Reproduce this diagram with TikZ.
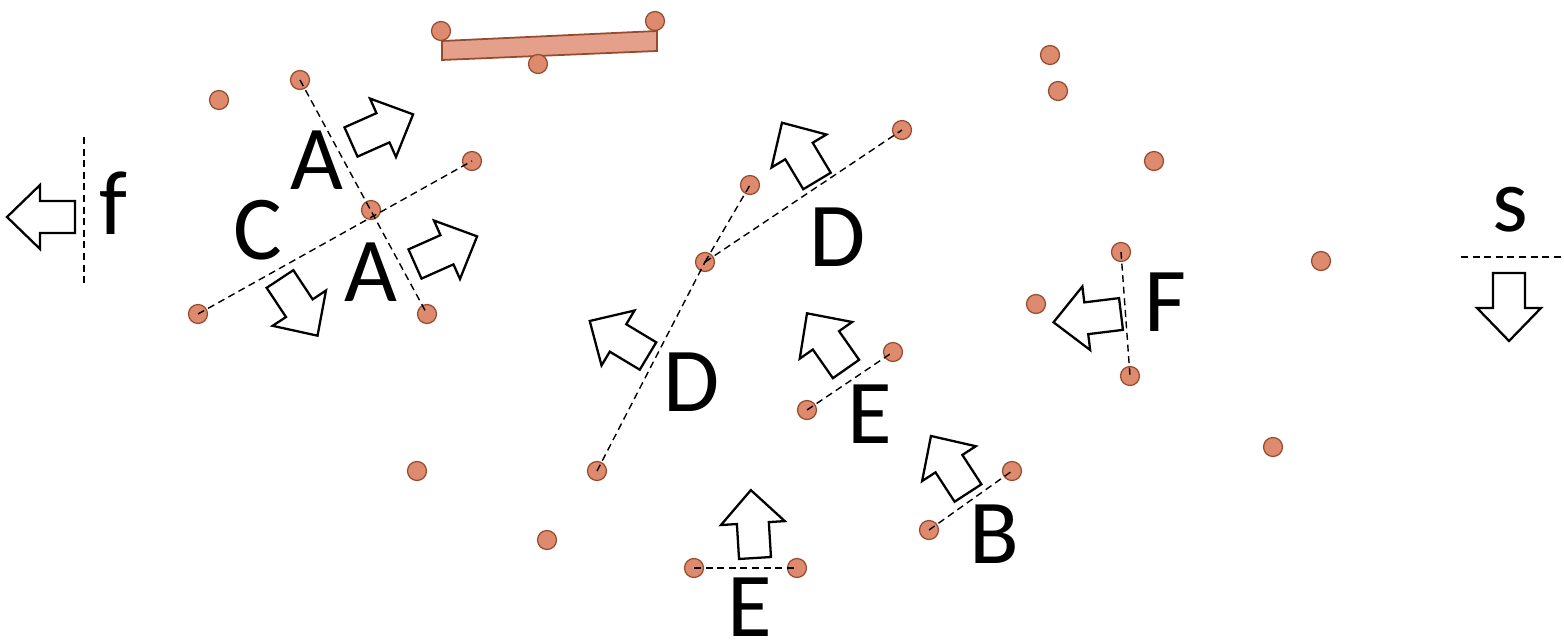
\documentclass[tikz,border=0pt]{standalone}
\usepackage{fontspec}
\setmainfont{Carlito}
\usetikzlibrary{calc}
\definecolor{dotfill}{RGB}{221,138,110}
\definecolor{dotline}{RGB}{150,75,45}
\definecolor{barfill}{RGB}{228,160,138}
\tikzset{
  dot/.style={circle,fill=dotfill,draw=dotline,line width=0.7pt,minimum size=0.38cm,inner sep=0pt},
  dline/.style={line width=0.8pt,dash pattern=on 4pt off 2.6pt},
  arrowstyle/.style={draw=black,fill=white,line width=1.3pt,line join=miter},
  lbl/.style={anchor=base,inner sep=0pt,font=\fontsize{52}{52}\selectfont}
}
\newcommand{\blockarrow}[2]{%
  \draw[arrowstyle] ($(#1)+(#2-90:0.32cm)$)
    -- ($(#1)+(#2:0.7cm)+(#2-90:0.32cm)$)
    -- ($(#1)+(#2:0.7cm)+(#2-90:0.64cm)$)
    -- ($(#1)+(#2:1.36cm)$)
    -- ($(#1)+(#2:0.7cm)+(#2+90:0.64cm)$)
    -- ($(#1)+(#2:0.7cm)+(#2+90:0.32cm)$)
    -- ($(#1)+(#2+90:0.32cm)$) -- cycle;}
\begin{document}
\begin{tikzpicture}[x=0.02cm,y=-0.02cm]
\useasboundingbox (0,0) rectangle (1564,641);
% top bar
\draw[fill=barfill,draw=dotline,line width=1pt] (442,41) -- (657,31) -- (657,51) -- (442,60) -- cycle;
\node[dot] (b1) at (441,31) {};
\node[dot] (b2) at (655,21) {};
\node[dot] (b3) at (538,64) {};
% dots
\node[dot] (p1) at (219,100) {};
\node[dot] (p2) at (300,80) {};
\node[dot] (p3) at (472,161) {};
\node[dot] (p4) at (371,210) {};
\node[dot] (p5) at (198,314) {};
\node[dot] (p6) at (427,314) {};
\node[dot] (p7) at (417,471) {};
\node[dot] (p8) at (547,540) {};
\node[dot] (p9) at (597,471) {};
\node[dot] (p10) at (705,262) {};
\node[dot] (p11) at (750,185) {};
\node[dot] (p12) at (902,130) {};
\node[dot] (p13) at (807,410) {};
\node[dot] (p14) at (893,352) {};
\node[dot] (p15) at (694,568) {};
\node[dot] (p16) at (797,568) {};
\node[dot] (p17) at (929,530) {};
\node[dot] (p18) at (1012,471) {};
\node[dot] (p19) at (1050,55) {};
\node[dot] (p20) at (1058,91) {};
\node[dot] (p21) at (1154,161) {};
\node[dot] (p22) at (1121,252) {};
\node[dot] (p23) at (1036,304) {};
\node[dot] (p24) at (1130,376) {};
\node[dot] (p25) at (1321,261) {};
\node[dot] (p26) at (1273,447) {};
% dashed lines
\draw[dline] (p2.center) -- (p6.center);
\draw[dline] (p5.center) -- (p3.center);
\draw[dline] (p9.center) -- (p10.center);
\draw[dline] (p10.center) -- (p11.center);
\draw[dline] (p10.center) -- (p12.center);
\draw[dline] (p13.center) -- (p14.center);
\draw[dline] (p15.center) -- (p16.center);
\draw[dline] (p17.center) -- (p18.center);
\draw[dline] (p22.center) -- (p24.center);
\coordinate (f1) at (84,137);
\coordinate (f2) at (84,283);
\draw[dline] (f1) -- (f2);
\coordinate (s1) at (1461,257);
\coordinate (s2) at (1564,257);
\draw[dline] (s1) -- (s2);
% block arrows (tail centres)
\coordinate (tf) at (75,217);
\coordinate (ts) at (1509,273);
\coordinate (ta1) at (351,142);
\coordinate (ta2) at (415,264);
\coordinate (tc) at (280,279);
\coordinate (td1) at (817,181);
\coordinate (td2) at (648,356);
\coordinate (te1) at (846,369);
\coordinate (tb) at (968,493);
\coordinate (te2) at (755,558);
\coordinate (tF) at (1121,314);
\blockarrow{tf}{180}
\blockarrow{ts}{-90}
\blockarrow{ta1}{24}
\blockarrow{ta2}{24}
\blockarrow{tc}{-56.5}
\blockarrow{td1}{121}
\blockarrow{td2}{149}
\blockarrow{te1}{125}
\blockarrow{tb}{123}
\blockarrow{te2}{93.5}
\blockarrow{tF}{187}
% labels
\node[lbl] (la1) at (317,190) {A};
\node[lbl] (lc) at (258,260) {C};
\node[lbl] (la2) at (371,302) {A};
\node[lbl] (lf) at (113,235) {f};
\node[lbl] (ld1) at (838,267) {D};
\node[lbl] (ld2) at (692,412) {D};
\node[lbl] (le1) at (870,443) {E};
\node[lbl] (le2) at (750,636) {E};
\node[lbl] (lb) at (994,563) {B};
\node[lbl] (lF) at (1165,332) {F};
\node[lbl] (ls) at (1510,232) {s};
\end{tikzpicture}
\end{document}
